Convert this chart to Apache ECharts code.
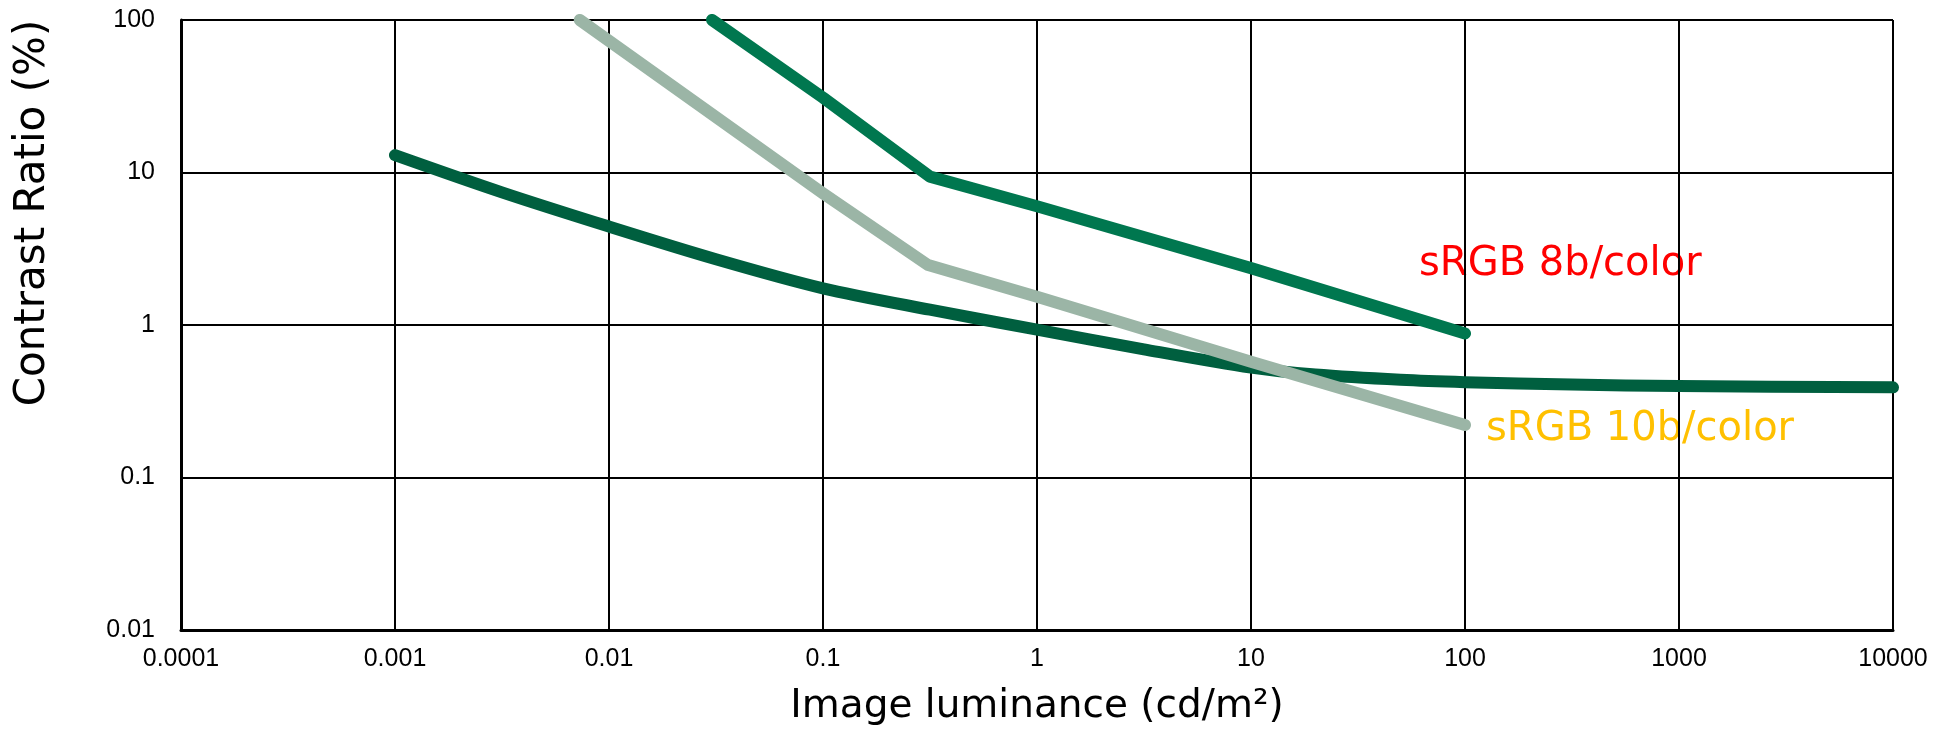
<!DOCTYPE html>
<html>
<head>
<meta charset="utf-8">
<script src="https://cdn.jsdelivr.net/npm/echarts@6/dist/echarts.min.js"></script>
<style>
html,body{margin:0;padding:0;background:#fff;}
#chart{width:1946px;height:731px;}
</style>
</head>
<body>
<div id="chart"></div>
<script>
// Tick labels
const xTickLabels = ['0.0001','0.001','0.01','0.1','1','10','100','1000','10000'];
const yTickLabels = ['0.01','0.1','1','10','100'];

// Lower curve (threshold contrast)
const thrLum = [0.001, 0.00316, 0.01, 0.0316, 0.1, 0.316, 1, 3.16, 10, 20, 50, 100, 316, 1000, 10000];
const thrCR  = [13.0, 7.41, 4.42, 2.70, 1.74, 1.26, 0.933, 0.692, 0.525, 0.473, 0.437, 0.422, 0.407, 0.398, 0.39];

// sRGB 10b/color
const s10Lum = [0.0073, 0.1, 0.31, 1, 10, 100];
const s10CR  = [100, 7.3, 2.47, 1.53, 0.574, 0.221];

// sRGB 8b/color
const s8Lum = [0.0303, 0.1, 0.316, 1, 10, 100];
const s8CR  = [100, 31, 9.4, 6.0, 2.36, 0.88];

const zip = (a, b) => a.map((v, i) => [v, b[i]]);
const labelFor = (arr, minExp) => v => {
  const i = Math.round(Math.log10(v)) - minExp;
  return arr[i] !== undefined ? arr[i] : '';
};

const tickFont = '"Liberation Sans Narrow", "Liberation Sans", Arial, sans-serif';
const chart = echarts.init(document.getElementById('chart'), null, {renderer: 'canvas'});
chart.setOption({
  animation: false,
  backgroundColor: '#ffffff',
  grid: {left: 181, right: 53, top: 20, bottom: 101, containLabel: false},
  xAxis: {
    type: 'log', logBase: 10, min: 0.0001, max: 10000,
    axisLine: {show: true, lineStyle: {color: '#000', width: 3}},
    axisTick: {show: false},
    splitLine: {show: true, lineStyle: {color: '#000', width: 2}},
    axisLabel: {
      formatter: labelFor(xTickLabels, -4),
      fontFamily: tickFont, fontSize: 25, color: '#000', margin: 17
    }
  },
  yAxis: {
    type: 'log', logBase: 10, min: 0.01, max: 100,
    axisLine: {show: true, lineStyle: {color: '#000', width: 3}},
    axisTick: {show: false},
    splitLine: {show: true, lineStyle: {color: '#000', width: 2}},
    axisLabel: {
      formatter: labelFor(yTickLabels, -2),
      fontFamily: tickFont, fontSize: 25, color: '#000', margin: 26
    }
  },
  graphic: [
    {type: 'text', z: -1, x: 33, y: 213, rotation: Math.PI / 2,
     style: {text: 'Contrast Ratio (%)', font: '42px "DejaVu Sans"', fill: '#000', align: 'center', verticalAlign: 'middle'}},
    {type: 'text', z: -1, x: 1037, y: 707,
     style: {text: 'Image luminance (cd/m²)', font: '39px "DejaVu Sans"', fill: '#000', align: 'center', verticalAlign: 'middle'}},
    {type: 'text', z: -1, x: 1419, y: 265,
     style: {text: 'sRGB 8b/color', font: '40px "DejaVu Sans"', fill: '#ff0000', align: 'left', verticalAlign: 'middle'}},
    {type: 'text', z: -1, x: 1486, y: 430,
     style: {text: 'sRGB 10b/color', font: '40px "DejaVu Sans"', fill: '#ffc000', align: 'left', verticalAlign: 'middle'}}
  ],
  series: [
    {type: 'line', name: 'threshold', data: zip(thrLum, thrCR), symbol: 'none', smooth: 0.3,
     lineStyle: {color: '#005f3f', width: 12, cap: 'round', join: 'round'}},
    {type: 'line', name: 'sRGB 10b/color', data: zip(s10Lum, s10CR), symbol: 'none',
     lineStyle: {color: '#9bb5a6', width: 12, cap: 'round', join: 'round'}},
    {type: 'line', name: 'sRGB 8b/color', data: zip(s8Lum, s8CR), symbol: 'none',
     lineStyle: {color: '#00774f', width: 12, cap: 'round', join: 'round'}}
  ]
});
</script>
</body>
</html>
